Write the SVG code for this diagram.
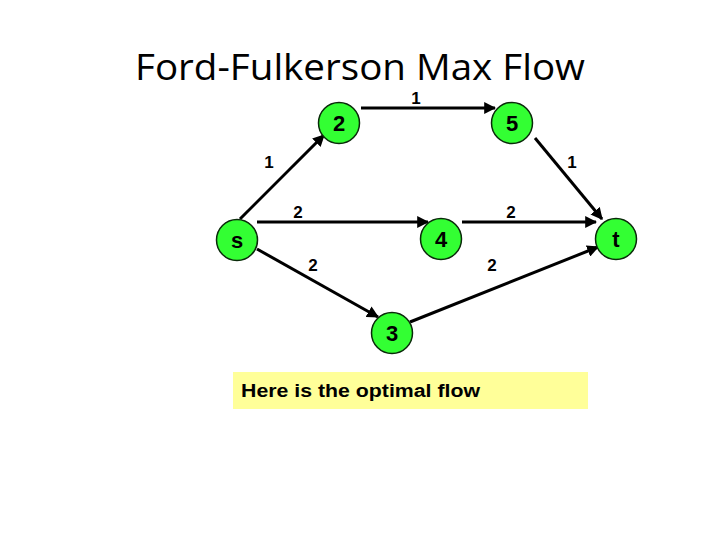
<svg xmlns="http://www.w3.org/2000/svg" width="720" height="540" viewBox="0 0 720 540">
<defs>
<marker id="arr" viewBox="0 0 10 10" refX="9" refY="5" markerWidth="4" markerHeight="4" orient="auto" markerUnits="strokeWidth">
<path d="M0,0 L10,5 L0,10 z" fill="#000"/>
</marker>
<style>
.node circle{fill:#33ff33;stroke:#0a2a0a;stroke-width:1.5}
.node text{font-family:"Liberation Sans",Arial,sans-serif;font-weight:bold;font-size:22px;text-anchor:middle;fill:#000}
.edge{stroke:#000;stroke-width:3;fill:none;marker-end:url(#arr)}
.lbl{font-family:"Liberation Sans",Arial,sans-serif;font-weight:bold;font-size:17px;text-anchor:middle;fill:#000}
</style>
</defs>
<rect width="720" height="540" fill="#fff"/>
<text x="360" y="80" font-family="'Open Sans',sans-serif" font-size="37" text-anchor="middle" fill="#000" textLength="450" lengthAdjust="spacingAndGlyphs">Ford-Fulkerson Max Flow</text>
<g id="connectors">
<line class="edge" x1="240" y1="219" x2="324" y2="135"/>
<line class="edge" x1="361" y1="108" x2="495" y2="108"/>
<line class="edge" x1="535" y1="138" x2="602" y2="219"/>
<line class="edge" x1="257" y1="222" x2="428" y2="222"/>
<line class="edge" x1="462" y1="222" x2="596" y2="222"/>
<line class="edge" x1="257" y1="249" x2="378" y2="317"/>
<line class="edge" x1="410" y1="322" x2="598" y2="247"/>
<text class="lbl" x="416" y="104">1</text>
<text class="lbl" x="269" y="168">1</text>
<text class="lbl" x="572" y="168">1</text>
<text class="lbl" x="298" y="218">2</text>
<text class="lbl" x="511" y="218">2</text>
<text class="lbl" x="313" y="271">2</text>
<text class="lbl" x="492" y="271">2</text>
</g>
<g id="node-2" class="node"><circle cx="339" cy="123" r="20.5"/><text x="339" y="131">2</text></g>
<g id="node-5" class="node"><circle cx="512" cy="123" r="20.5"/><text x="512" y="131">5</text></g>
<g id="node-s" class="node"><circle cx="237" cy="240" r="20.5"/><text x="237" y="248">s</text></g>
<g id="node-4" class="node"><circle cx="441" cy="239" r="20.5"/><text x="441" y="247">4</text></g>
<g id="node-t" class="node"><circle cx="616" cy="239" r="20.5"/><text x="616" y="247">t</text></g>
<g id="node-3" class="node"><circle cx="392" cy="333" r="20.5"/><text x="392" y="341">3</text></g>
<g id="note">
<rect x="233" y="372" width="355" height="37" fill="#ffff99"/>
<text x="241" y="397" font-family="'Liberation Sans',Arial,sans-serif" font-weight="bold" font-size="18" fill="#000" textLength="239" lengthAdjust="spacingAndGlyphs">Here is the optimal flow</text>
</g>
</svg>
